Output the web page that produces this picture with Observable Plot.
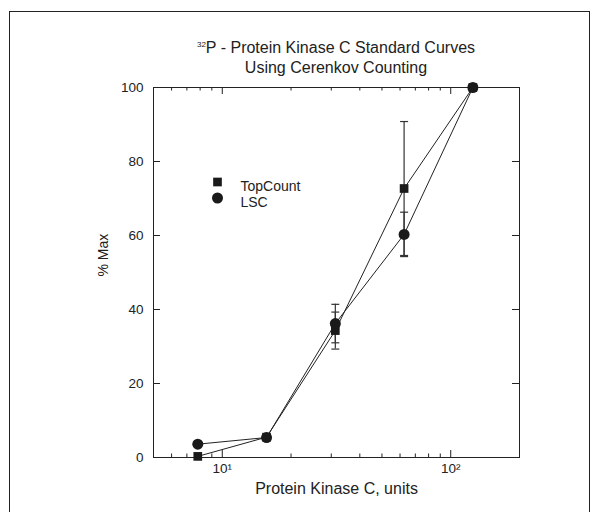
<!DOCTYPE html>
<html>
<head>
<meta charset="utf-8">
<script src="https://cdn.jsdelivr.net/npm/d3@7"></script>
<script src="https://cdn.jsdelivr.net/npm/@observablehq/plot@0.6"></script>
<style>
  html, body { margin: 0; padding: 0; background: #fff; overflow: hidden; }
  #wrap { position: relative; width: 596px; height: 512px; font-family: "Liberation Sans", Arial, sans-serif; color: #222; }
  #border { position: absolute; left: 9px; top: 11px; width: 581px; height: 520px; border: 1px solid #222; box-sizing: border-box; pointer-events: none; }
  #title { margin-left: 153px; width: 366px; padding-top: 38px; text-align: center; font-size: 16px; line-height: 20px; height: 40px; }
  #title sup { font-size: 8px; vertical-align: 6px; line-height: 0; }
  #chart svg { display: block; }
</style>
</head>
<body>
<div id="wrap">
  <div id="border"></div>
  <div id="title"><sup>32</sup>P - Protein Kinase C Standard Curves<br>Using Cerenkov Counting</div>
  <div id="chart"></div>
</div>
<script>
// Data
const units = [7.8125, 15.625, 31.25, 62.5, 125];
const topCount = [0.3, 5.5, 34.3, 72.7, 100];
const topCountErr = [0, 0, 5.0, 18.1, 0];
const lsc = [3.6, 5.4, 36.2, 60.3, 100];
const lscErr = [0, 0, 5.2, 6.0, 0];
const seriesNames = ["TopCount", "LSC"];
const xMajorTicks = [10, 100];
const xMajorLabels = ["10\u00B9", "10\u00B2"];
const xMinorTicks = [6, 7, 8, 9, 20, 30, 40, 50, 60, 70, 80, 90];
const yTicks = [0, 20, 40, 60, 80, 100];

const rows = [];
units.forEach((u, i) => {
  rows.push({series: "TopCount", x: u, y: topCount[i], e: topCountErr[i]});
  rows.push({series: "LSC", x: u, y: lsc[i], e: lscErr[i]});
});
const errRows = rows.filter(d => d.e > 0);

const W = 596, H = 434, mL = 153, mR = 77, mT = 9, mB = 55;
const innerW = W - mL - mR, innerH = H - mT - mB;
const ink = "#222";

const capSymbol = { draw(ctx) { ctx.moveTo(-4, 0); ctx.lineTo(4, 0); } };

const chart = Plot.plot({
  width: W, height: H,
  marginLeft: mL, marginRight: mR, marginTop: mT, marginBottom: mB,
  x: {type: "log", domain: [5, 200], axis: null},
  y: {domain: [0, 100], axis: null},
  style: {fontFamily: "'Liberation Sans', Arial, sans-serif", fontSize: "13.5px", color: ink, background: "transparent", overflow: "visible"},
  marks: [
    Plot.frame({stroke: ink, strokeWidth: 1}),
    // x ticks (inward), bottom and top
    Plot.ruleX(xMajorTicks, {insetTop: innerH - 7, stroke: ink}),
    Plot.ruleX(xMajorTicks, {insetBottom: innerH - 7, stroke: ink}),
    Plot.ruleX(xMinorTicks, {insetTop: innerH - 3.5, stroke: ink}),
    Plot.ruleX(xMinorTicks, {insetBottom: innerH - 3.5, stroke: ink}),
    // y ticks (inward), left and right
    Plot.ruleY(yTicks, {insetRight: innerW - 7, stroke: ink}),
    Plot.ruleY(yTicks, {insetLeft: innerW - 7, stroke: ink}),
    // tick labels
    Plot.axisX(xMajorTicks, {tickSize: 0, tickPadding: 6, tickFormat: d => xMajorLabels[xMajorTicks.indexOf(d)], fontSize: 13.5, label: null}),
    Plot.axisY(yTicks, {tickSize: 0, tickPadding: 10, fontSize: 13.5, label: null}),
    // axis titles
    Plot.text(["Protein Kinase C, units"], {frameAnchor: "bottom", dy: 36, fontSize: 16, fill: ink}),
    Plot.text(["% Max"], {frameAnchor: "left", dx: -50, dy: 4, rotate: -90, fontSize: 14, fill: ink}),
    // error bars
    Plot.ruleX(errRows, {x: "x", y1: d => d.y - d.e, y2: d => d.y + d.e, stroke: "#333", strokeWidth: 1.2}),
    Plot.dot(errRows, {x: "x", y: d => d.y + d.e, symbol: capSymbol, stroke: "#333", strokeWidth: 1.2, fill: "none"}),
    Plot.dot(errRows, {x: "x", y: d => d.y - d.e, symbol: capSymbol, stroke: "#333", strokeWidth: 1.2, fill: "none"}),
    // lines
    Plot.line(rows, {x: "x", y: "y", z: "series", stroke: ink, strokeWidth: 1}),
    // markers
    Plot.dot(rows.filter(d => d.series === "TopCount"), {x: "x", y: "y", symbol: "square", r: 4.9, fill: "#1a1a1a", stroke: "none"}),
    Plot.dot(rows.filter(d => d.series === "LSC"), {x: "x", y: "y", symbol: "circle", r: 5.5, fill: "#1a1a1a", stroke: "none"}),
    // legend
    Plot.dot([seriesNames[0]], {frameAnchor: "top-left", dx: 64, dy: 94.5, symbol: "square", r: 4.9, fill: "#1a1a1a", stroke: "none"}),
    Plot.dot([seriesNames[1]], {frameAnchor: "top-left", dx: 64, dy: 110.5, symbol: "circle", r: 5.5, fill: "#1a1a1a", stroke: "none"}),
    Plot.text([seriesNames[0]], {frameAnchor: "top-left", dx: 87, dy: 94, text: d => d, textAnchor: "start", fontSize: 14, fill: ink}),
    Plot.text([seriesNames[1]], {frameAnchor: "top-left", dx: 87, dy: 110, text: d => d, textAnchor: "start", fontSize: 14, fill: ink})
  ]
});
document.getElementById("chart").appendChild(chart);
</script>
</body>
</html>
